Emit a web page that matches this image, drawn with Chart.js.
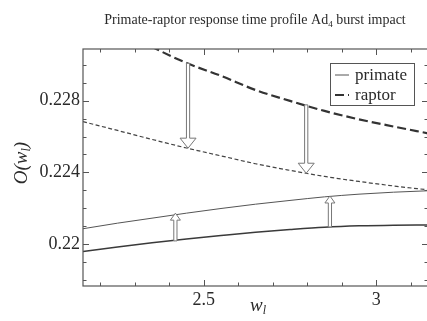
<!DOCTYPE html>
<html>
<head>
<meta charset="utf-8">
<script src="https://cdn.jsdelivr.net/npm/chart.js@4"></script>
<style>
html,body{margin:0;padding:0;background:#fff;overflow:hidden;}
#wrap{width:428px;height:321px;position:relative;}
</style>
</head>
<body>
<div id="wrap"><canvas id="c"></canvas></div>
<script>
// ---- data ----
const xValues = [2.15, 2.25, 2.35, 2.45, 2.55, 2.65, 2.75, 2.85, 2.95, 3.05, 3.15];
const primateBase  = [0.21957, 0.21983, 0.22007, 0.22028, 0.22047, 0.22065, 0.22080, 0.22093, 0.22101, 0.22105, 0.22106];
const primateBurst = [0.22085, 0.22116, 0.22144, 0.22172, 0.22198, 0.22222, 0.22243, 0.22263, 0.22278, 0.22289, 0.22297];
const raptorBase   = [0.23318, 0.23207, 0.23101, 0.23011, 0.22939, 0.22860, 0.22799, 0.22743, 0.22696, 0.22656, 0.22618];
const raptorBurst  = [0.22683, 0.22634, 0.22584, 0.22536, 0.22492, 0.22448, 0.22411, 0.22377, 0.22349, 0.22324, 0.22302];

const arrowX    = [2.4545, 2.797, 2.4178, 2.8657];
const arrowFrom = [0.23009, 0.22777, 0.22017, 0.22095];
const arrowTo   = [0.22535, 0.22395, 0.22172, 0.22268];

const xTickValues = [2.2, 2.3, 2.4, 2.5, 2.6, 2.7, 2.8, 2.9, 3.0, 3.1];
const xTickLabels = {"2.5": "2.5", "3": "3"};
const yTickValues = [0.218, 0.219, 0.220, 0.221, 0.222, 0.223, 0.224, 0.225, 0.226, 0.227, 0.228, 0.229, 0.230];
const yTickLabels = {"0.22": "0.22", "0.224": "0.224", "0.228": "0.228"};

const seriesNames = ["primate", "raptor"];
const titleParts = ["Primate-raptor response time profile Ad", "4", " burst impact"];

const pts = ys => xValues.map((x, i) => ({x: x, y: ys[i]}));
const key = v => String(Math.round(v * 100000) / 100000);

const SERIF = '"Liberation Serif", "Times New Roman", serif';
const INK = '#2a2a2a';

const decor = {
  id: 'decor',
  beforeDatasetsDraw(chart) {
    const ctx = chart.ctx, a = chart.chartArea;
    ctx.save();
    ctx.fillStyle = '#fff';
    ctx.fillRect(a.left, a.top, a.right - a.left, a.bottom - a.top);
    ctx.restore();
  },
  afterDatasetsDraw(chart) {
    const ctx = chart.ctx, a = chart.chartArea;
    const xs = chart.scales.x, ys = chart.scales.y;
    // arrows
    ctx.save();
    ctx.beginPath(); ctx.rect(a.left, a.top, a.right - a.left, a.bottom - a.top); ctx.clip();
    ctx.strokeStyle = '#777'; ctx.lineWidth = 1; ctx.fillStyle = '#fff';
    arrowX.forEach((xv, i) => {
      const x = xs.getPixelForValue(xv);
      const y0 = ys.getPixelForValue(arrowFrom[i]);
      const y1 = ys.getPixelForValue(arrowTo[i]);
      const dir = y1 > y0 ? 1 : -1;
      const hw = dir > 0 ? 8 : 5, hl = dir > 0 ? 10 : 7, sw = 1.6;
      const yb = y1 - dir * hl;
      ctx.beginPath();
      ctx.moveTo(x - sw, y0); ctx.lineTo(x + sw, y0);
      ctx.lineTo(x + sw, yb); ctx.lineTo(x + hw, yb);
      ctx.lineTo(x, y1); ctx.lineTo(x - hw, yb);
      ctx.lineTo(x - sw, yb); ctx.closePath();
      ctx.fill(); ctx.stroke();
    });
    ctx.restore();

    // frame and inward ticks
    ctx.save();
    ctx.strokeStyle = '#555'; ctx.lineWidth = 1.2;
    ctx.strokeRect(a.left, a.top, a.right - a.left, a.bottom - a.top);
    ctx.lineWidth = 1;
    xTickValues.forEach(v => {
      const x = Math.round(xs.getPixelForValue(v)) + 0.5;
      const L = xTickLabels[key(v)] ? 6 : 3.5;
      ctx.beginPath();
      ctx.moveTo(x, a.bottom); ctx.lineTo(x, a.bottom - L);
      ctx.moveTo(x, a.top); ctx.lineTo(x, a.top + L);
      ctx.stroke();
    });
    yTickValues.forEach(v => {
      const y = Math.round(ys.getPixelForValue(v)) + 0.5;
      const L = yTickLabels[key(v)] ? 6 : 3.5;
      ctx.beginPath();
      ctx.moveTo(a.left, y); ctx.lineTo(a.left + L, y);
      ctx.moveTo(a.right, y); ctx.lineTo(a.right - L, y);
      ctx.stroke();
    });
    ctx.restore();

    // legend box
    ctx.save();
    const bx = 330, by = 63, bw = 84, bh = 42;
    ctx.fillStyle = '#fff'; ctx.fillRect(bx, by, bw, bh);
    ctx.strokeStyle = '#555'; ctx.lineWidth = 1;
    ctx.strokeRect(bx + 0.5, by + 0.5, bw, bh);
    ctx.font = '17px ' + SERIF; ctx.fillStyle = INK; ctx.textBaseline = 'middle';
    const ds = chart.data.datasets;
    [1, 2].forEach((di, row) => {
      const d = ds[di];
      const cy = by + 12 + row * 20;
      ctx.save();
      ctx.strokeStyle = d.borderColor; ctx.lineWidth = d.borderWidth;
      ctx.setLineDash(d.borderDash || []);
      ctx.beginPath(); ctx.moveTo(bx + 5, cy); ctx.lineTo(bx + 19, cy); ctx.stroke();
      ctx.restore();
      ctx.fillText(seriesNames[row], bx + 25, cy + 1);
    });
    ctx.restore();
  },
  afterDraw(chart) {
    const ctx = chart.ctx;
    ctx.save();
    ctx.fillStyle = INK;
    // title
    ctx.textBaseline = 'alphabetic';
    const f1 = '14px ' + SERIF, f2 = '9px ' + SERIF;
    ctx.font = f1; const w1 = ctx.measureText(titleParts[0]).width, w3 = ctx.measureText(titleParts[2]).width;
    ctx.font = f2; const w2 = ctx.measureText(titleParts[1]).width;
    let tx = 255 - (w1 + w2 + w3) / 2;
    const tyb = 24;
    ctx.font = f1; ctx.fillText(titleParts[0], tx, tyb); tx += w1;
    ctx.font = f2; ctx.fillText(titleParts[1], tx, tyb + 3); tx += w2;
    ctx.font = f1; ctx.fillText(titleParts[2], tx, tyb);

    // axis titles with subscripts
    const drawSub = (parts, cx, cy, size) => {
      const big = 'italic ' + size + 'px ' + SERIF, small = 'italic ' + Math.round(size * 0.65) + 'px ' + SERIF;
      const widths = parts.map(p => { ctx.font = p[1] ? small : big; return ctx.measureText(p[0]).width; });
      let x = cx - widths.reduce((s, w) => s + w, 0) / 2;
      parts.forEach((p, i) => {
        ctx.font = p[1] ? small : big;
        ctx.fillText(p[0], x, cy + (p[1] ? size * 0.25 : 0));
        x += widths[i];
      });
    };
    ctx.textBaseline = 'middle';
    drawSub([["w", 0], ["l", 1]], 258, 306, 19);
    ctx.translate(22, 163); ctx.rotate(-Math.PI / 2);
    drawSub([["O(w", 0], ["l", 1], [")", 0]], 0, 0, 19);
    ctx.restore();
  }
};

new Chart(document.getElementById('c'), {
  type: 'line',
  data: {
    datasets: [
      {label: 'primate', data: pts(primateBase), borderColor: '#3a3a3a', borderWidth: 1.5, pointRadius: 0, fill: false, cubicInterpolationMode: 'monotone'},
      {label: 'primate burst', data: pts(primateBurst), borderColor: '#555', borderWidth: 1, pointRadius: 0, fill: false, cubicInterpolationMode: 'monotone'},
      {label: 'raptor', data: pts(raptorBase), borderColor: '#333', borderWidth: 2.2, borderDash: [9, 4], pointRadius: 0, fill: false, cubicInterpolationMode: 'monotone'},
      {label: 'raptor burst', data: pts(raptorBurst), borderColor: '#444', borderWidth: 1.2, borderDash: [4, 2.5], pointRadius: 0, fill: false, cubicInterpolationMode: 'monotone'}
    ]
  },
  options: {
    responsive: true,
    maintainAspectRatio: false,
    animation: false,
    devicePixelRatio: 1,
    layout: {padding: {top: 49, left: 0, right: 0, bottom: 0}},
    plugins: {legend: {display: false}, title: {display: false}, tooltip: {enabled: false}},
    scales: {
      x: {
        type: 'linear', min: 2.15, max: 3.15,
        afterBuildTicks: s => { s.ticks = xTickValues.map(v => ({value: v})); },
        afterFit: s => { s.height = 35; },
        grid: {display: false, drawTicks: false},
        border: {display: false},
        ticks: {
          autoSkip: false, maxRotation: 0, padding: 3,
          color: INK, font: {family: SERIF, size: 18},
          callback: v => xTickLabels[key(v)] || ''
        }
      },
      y: {
        type: 'linear', min: 0.21765, max: 0.23089,
        afterBuildTicks: s => { s.ticks = yTickValues.map(v => ({value: v})); },
        afterFit: s => { s.width = 83; },
        grid: {display: false, drawTicks: false},
        border: {display: false},
        ticks: {
          autoSkip: false, padding: 3,
          color: INK, font: {family: SERIF, size: 18},
          callback: v => yTickLabels[key(v)] || ''
        }
      }
    }
  },
  plugins: [decor]
});
</script>
</body>
</html>
